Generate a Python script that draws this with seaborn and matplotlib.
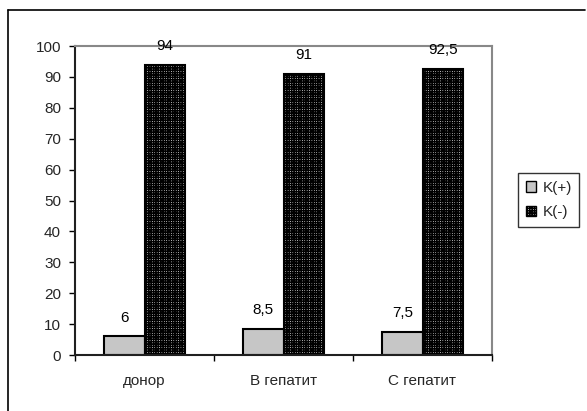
import matplotlib
matplotlib.use("Agg")
import matplotlib.pyplot as plt
import seaborn as sns
import pandas as pd
from matplotlib.patches import Patch
from matplotlib.lines import Line2D

categories = ["донор", "В гепатит", "С гепатит"]
series = ["K(+)", "K(-)"]
k_plus = [6, 8.5, 7.5]
k_minus = [94, 91, 92.5]
y_ticks = list(range(0, 101, 10))

df = pd.DataFrame({
    "cat": categories * 2,
    "series": [series[0]] * 3 + [series[1]] * 3,
    "value": k_plus + k_minus,
})

sns.set_theme(style="white")
plt.rcParams["font.family"] = ["Liberation Sans", "DejaVu Sans"]
plt.rcParams["hatch.linewidth"] = 1.1

fig = plt.figure(figsize=(5.87, 4.11), dpi=100)
ax = fig.add_axes([75 / 587, 1 - 355 / 411, (492 - 75) / 587, (355 - 46) / 411])

sns.barplot(data=df, x="cat", y="value", hue="series", order=categories,
            hue_order=series, palette=["#c6c6c6", "white"], width=0.58,
            gap=0, edgecolor="black", linewidth=1.5, ax=ax, legend=False)

for bar in ax.containers[1]:
    bar.set_hatch("+++++++")
    bar.set_edgecolor("black")

fs = 11
for cont, vals in zip(ax.containers, [k_plus, k_minus]):
    ax.bar_label(cont, labels=[f"{v:g}".replace(".", ",") for v in vals],
                 padding=8.5, fontsize=fs, color="black")

ax.set_ylim(0, 100)
ax.set_xlim(-0.5, 2.5)
ax.set_yticks(y_ticks)
ax.set_yticklabels([str(t) for t in y_ticks], fontsize=fs)
ax.set_xticks(range(len(categories)))
ax.set_xticklabels(categories, fontsize=fs)
ax.set_xticks([-0.5, 0.5, 1.5, 2.5], minor=True)
ax.tick_params(axis="x", which="major", length=0, pad=14)
ax.tick_params(axis="x", which="minor", length=4, width=1, color="black", direction="out", bottom=True)
ax.tick_params(axis="y", which="major", length=4, width=1, color="black", direction="out", left=True, pad=6)
ax.set_xlabel("")
ax.set_ylabel("")

for s in ["left", "bottom"]:
    ax.spines[s].set_color("#202020")
    ax.spines[s].set_linewidth(1.5)
for s in ["top", "right"]:
    ax.spines[s].set_color("#888888")
    ax.spines[s].set_linewidth(1.5)
    ax.spines[s].set_visible(True)

handles = [Patch(facecolor="#c6c6c6", edgecolor="black", linewidth=1),
           Patch(facecolor="white", edgecolor="black", hatch="+++++++", linewidth=1)]
leg = fig.legend(handles, series, loc="center left",
                 bbox_to_anchor=(518 / 587, 1 - 200 / 411), fontsize=fs,
                 frameon=True, fancybox=False, handlelength=0.7, handleheight=0.7,
                 handletextpad=0.4, labelspacing=0.7, borderpad=0.5, borderaxespad=0)
leg.get_frame().set_edgecolor("black")
leg.get_frame().set_linewidth(1)

# outer chart-area frame (left and top edges visible)
fig.add_artist(Line2D([8 / 587, 8 / 587], [0, 1 - 10 / 411], transform=fig.transFigure,
                      color="black", linewidth=1.2))
fig.add_artist(Line2D([8 / 587, 585 / 587], [1 - 10 / 411, 1 - 10 / 411], transform=fig.transFigure,
                      color="black", linewidth=1.2))

fig.savefig("out.png", dpi=100)
